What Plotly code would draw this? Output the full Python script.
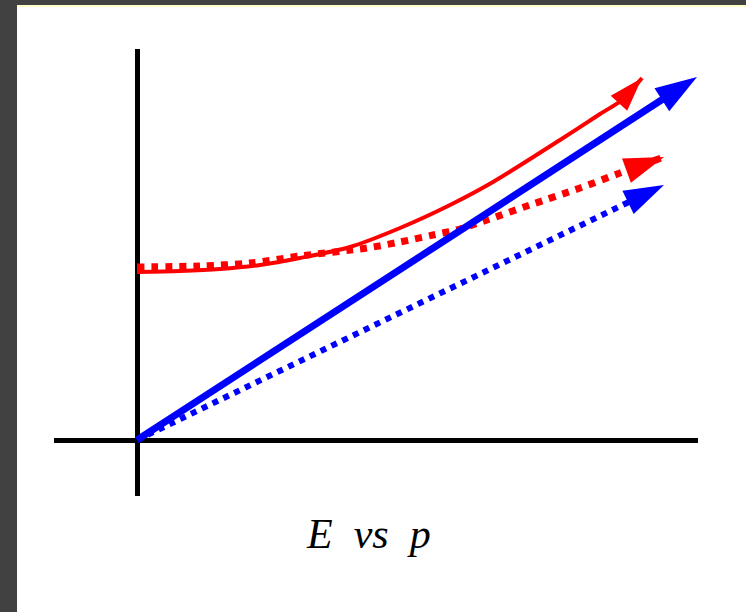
import plotly.graph_objects as go

# ---- data (units: 1 unit = 100 px of the reference, origin at axes crossing) ----
blue_solid_p = [0.0, 5.60]
blue_solid_E = [0.0, 3.63]

blue_dot_p = [0.0, 5.27]
blue_dot_E = [0.0, 2.55]

red_solid_p = [0.0, 0.43, 0.83, 1.23, 1.63, 2.13, 2.63, 3.13, 3.56, 4.23, 4.63, 4.85, 5.05]
red_solid_E = [1.68, 1.69, 1.71, 1.75, 1.82, 1.93, 2.12, 2.35, 2.58, 3.00, 3.26, 3.40, 3.62]

red_dot_p = [0.0, 0.63, 1.13, 1.63, 2.30, 2.63, 2.96, 3.23, 3.50, 3.93, 4.43, 4.83, 5.27]
red_dot_E = [1.73, 1.74, 1.77, 1.84, 1.92, 1.98, 2.05, 2.11, 2.20, 2.35, 2.52, 2.67, 2.83]

title_text = "<i>E&nbsp; vs&nbsp; p</i>"

W, H = 746, 612
ML, MR, MT, MB = 54, 48, 49, 116
PW, PH = W - ML - MR, H - MT - MB


def px_x(px):
    return (px - ML) / PW


def px_y(py):
    return (H - MB - py) / PH


def arrow_trace(p, E, color, width, dash, head, shape="linear"):
    sizes = [0] * (len(p) - 1) + [head]
    return go.Scatter(
        x=p, y=E, mode="lines+markers",
        line=dict(color=color, width=width, dash=dash, shape=shape, smoothing=0.8),
        marker=dict(symbol="arrow", size=sizes, color=color, angleref="previous",
                    opacity=1, line=dict(width=0)),
        hoverinfo="skip", showlegend=False,
    )


fig = go.Figure()
fig.add_trace(arrow_trace(blue_dot_p, blue_dot_E, "#0000ff", 6, "dot", 42))
fig.add_trace(arrow_trace(red_dot_p, red_dot_E, "#ff0000", 7, "dot", 42, "spline"))
fig.add_trace(arrow_trace(red_solid_p, red_solid_E, "#ff0000", 4, "solid", 36, "spline"))
fig.add_trace(arrow_trace(blue_solid_p, blue_solid_E, "#0000ff", 7, "solid", 44))

axis_common = dict(showgrid=False, showticklabels=False, ticks="", showline=False,
                   zeroline=True, zerolinecolor="black", zerolinewidth=4.5,
                   fixedrange=True)
fig.update_xaxes(range=[(ML - 137) / 100, (W - MR - 137) / 100], **axis_common)
fig.update_yaxes(range=[(440 - (H - MB)) / 100, (440 - MT) / 100], **axis_common)

fig.update_layout(
    width=W, height=H,
    margin=dict(l=ML, r=MR, t=MT, b=MB, pad=0),
    paper_bgcolor="#414141", plot_bgcolor="white",
    shapes=[
        dict(type="rect", xref="paper", yref="paper", layer="below",
             x0=px_x(17), x1=px_x(W + 5), y0=px_y(5), y1=px_y(H + 5),
             fillcolor="#ffffc8", line=dict(width=0)),
        dict(type="rect", xref="paper", yref="paper", layer="below",
             x0=px_x(18), x1=px_x(W + 5), y0=px_y(7), y1=px_y(H + 5),
             fillcolor="white", line=dict(width=0)),
    ],
    annotations=[
        dict(text=title_text, xref="paper", yref="paper",
             x=px_x(368.5), y=px_y(534), xanchor="center", yanchor="middle",
             showarrow=False,
             font=dict(family="Liberation Serif", size=42, color="black")),
    ],
)

fig.write_html("out.html", config={"displayModeBar": False},
               post_script="document.body.style.margin='0';")
